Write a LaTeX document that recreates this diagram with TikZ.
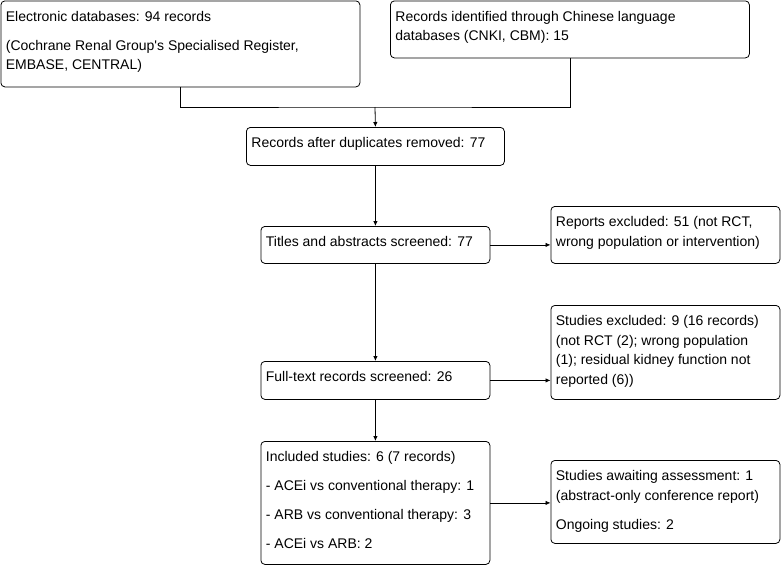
\documentclass[tikz,border=0pt]{standalone}
\usepackage{fontspec}
\setmainfont{Liberation Sans}
\usetikzlibrary{arrows.meta}

\tikzset{
  flowbox/.style={draw, rounded corners=4pt, anchor=north west, inner xsep=5pt, inner ysep=0pt, line width=0.8pt},
  flowarrow/.style={-{Latex[length=5pt,width=4.5pt]}, line width=0.8pt}
}
% box text: width, height, lines
\newcommand{\boxtext}[3]{\parbox[c][#2pt][t]{\dimexpr#1pt-10pt\relax}{\raggedright\fontsize{14}{19.5}\selectfont\vspace*{10pt}#3}}
\newcommand{\paragap}{\\[9.5pt]}

\begin{document}
\begin{tikzpicture}[x=1pt,y=-1pt]

    \useasboundingbox (0,0) rectangle (783,566);

    % Sources
    \node[flowbox] (elec) at (0.5,0.5) {\boxtext{359}{86}{Electronic databases: 94 records\paragap
        (Cochrane Renal Group\textquotesingle s Specialised Register,\\EMBASE, CENTRAL)}};
    \node[flowbox] (chinese) at (390,0.5) {\boxtext{359}{57}{Records identified through Chinese language\\
        databases (CNKI, CBM): 15}};

    % Main column
    \node[flowbox] (dupl) at (246,127) {\boxtext{258}{38}{Records after duplicates removed: 77}};
    \node[flowbox] (titles) at (260.5,226) {\boxtext{229}{37}{Titles and abstracts screened: 77}};
    \node[flowbox] (fulltext) at (260.5,361) {\boxtext{229}{38}{Full-text records screened: 26}};
    \node[flowbox] (included) at (260.5,441) {\boxtext{229}{123}{Included studies: 6 (7 records)\paragap
        - ACEi vs conventional therapy: 1\paragap
        - ARB vs conventional therapy: 3\paragap
        - ACEi vs ARB: 2}};

    % Side boxes
    \node[flowbox] (reports) at (550.5,206) {\boxtext{229}{57}{Reports excluded: 51 (not RCT,\\
        wrong population or intervention)}};
    \node[flowbox] (studexcl) at (550.5,305) {\boxtext{229}{94}{Studies excluded: 9 (16 records)\\
        (not RCT (2); wrong population\\(1); residual kidney function not\\reported (6))}};
    \node[flowbox] (awaiting) at (550.5,460) {\boxtext{229}{83}{Studies awaiting assessment: 1\\
        (abstract-only conference report)\paragap
        Ongoing studies: 2}};

    % Merge of the sources
    \coordinate (merge) at (375,107);
    \draw[line width=0.8pt] (elec.south) |- (merge) -| (chinese.south);
    \draw[flowarrow] (merge) -- (dupl.north);

    % Down the main column
    \foreach \a/\b in {dupl/titles, titles/fulltext, fulltext/included}
        \draw[flowarrow] (\a.south) -- (\a.south |- \b.north);

    % Across to the side boxes
    \foreach \a/\b in {titles/reports, fulltext/studexcl, included/awaiting}
        \draw[flowarrow] (\a.east) -- (\a.east -| \b.west);

\end{tikzpicture}
\end{document}
